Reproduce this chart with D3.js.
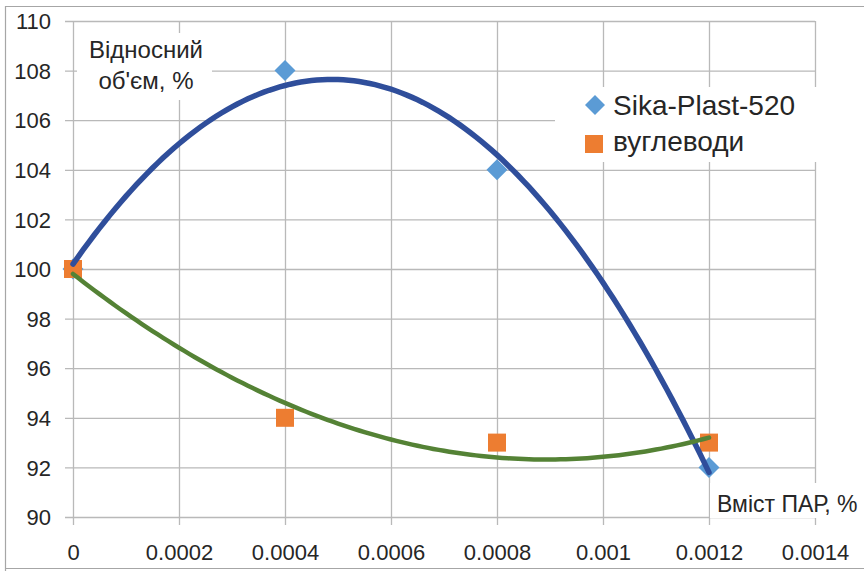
<!DOCTYPE html>
<html><head><meta charset="utf-8">
<script src="https://cdn.jsdelivr.net/npm/d3@7/dist/d3.min.js"></script>
<style>html,body{margin:0;padding:0;background:#fff;}svg{display:block;font-family:"Liberation Sans",Arial,sans-serif;}</style>
</head><body>
<script>
const xValues = [0, 0.0004, 0.0008, 0.0012];
const sikaValues = [100, 108, 104, 92];
const carbValues = [100, 94, 93, 93];
const xTicks = [0, 0.0002, 0.0004, 0.0006, 0.0008, 0.001, 0.0012, 0.0014];
const xTickLabels = ["0", "0.0002", "0.0004", "0.0006", "0.0008", "0.001", "0.0012", "0.0014"];
const yTicks = [90, 92, 94, 96, 98, 100, 102, 104, 106, 108, 110];
const seriesNames = ["Sika-Plast-520", "вуглеводи"];

const W = 864, H = 571;
const svg = d3.select("body").append("svg").attr("width", W).attr("height", H);
const x = d3.scaleLinear().domain([0, 0.0014]).range([73, 815]);
const y = d3.scaleLinear().domain([90, 110]).range([517, 21]);
const grid = "#b9b9b9";

// outer border
svg.append("path").attr("d", `M5.5,571 L5.5,6.5 L864,6.5 M5.5,568.5 L864,568.5`).attr("fill","none").attr("stroke","#a6a6a6").attr("stroke-width",1.2);

// horizontal gridlines (y axis)
const yAxis = d3.axisLeft(y).tickValues(yTicks).tickSize(-(815-65)).tickFormat(d3.format("d"));
const gy = svg.append("g").attr("transform", "translate(65,0)").call(yAxis);
gy.select(".domain").remove();
gy.selectAll("line").attr("stroke", grid).attr("stroke-width", 1.3).attr("x1", 0);
gy.selectAll("text").attr("font-size", 22).attr("fill", "#262626").attr("x", -14).attr("dy","0.35em");

// vertical gridlines (x axis)
const xAxis = d3.axisBottom(x).tickValues(xTicks).tickSize(-(525-21)).tickFormat((d,i)=>xTickLabels[i]);
const gx = svg.append("g").attr("transform", "translate(0,525)").call(xAxis);
gx.select(".domain").remove();
gx.selectAll("line").attr("stroke", grid).attr("stroke-width", 1.3);
gx.selectAll("text").attr("font-size", 22).attr("fill", "#262626").attr("y", 35).attr("dy", 0);

// white label boxes
svg.append("rect").attr("x",77).attr("y",33).attr("width",135).attr("height",67).attr("fill","#fff");
svg.append("rect").attr("x",555).attr("y",87).attr("width",265).attr("height",75).attr("fill","#fff");
svg.append("rect").attr("x",710).attr("y",483).attr("width",154).attr("height",35).attr("fill","#fff");

// quadratic least-squares trendline
function quadFit(xs, ys) {
  let S = Array(5).fill(0), T = Array(3).fill(0);
  xs.forEach((xv, i) => { for (let k=0;k<5;k++) S[k]+=Math.pow(xv,k); for (let k=0;k<3;k++) T[k]+=ys[i]*Math.pow(xv,k); });
  const A = [[S[0],S[1],S[2],T[0]],[S[1],S[2],S[3],T[1]],[S[2],S[3],S[4],T[2]]];
  for (let c=0;c<3;c++){ let p=c; for(let r=c+1;r<3;r++) if(Math.abs(A[r][c])>Math.abs(A[p][c])) p=r; [A[c],A[p]]=[A[p],A[c]];
    for(let r=0;r<3;r++){ if(r===c) continue; const f=A[r][c]/A[c][c]; for(let k=c;k<4;k++) A[r][k]-=f*A[c][k]; } }
  const coef = [A[0][3]/A[0][0], A[1][3]/A[1][1], A[2][3]/A[2][2]];
  return xv => coef[0] + coef[1]*xv + coef[2]*xv*xv;
}
const xsScaled = xValues.map(v => v*1000);
const fSika = quadFit(xsScaled, sikaValues);
const fCarb = quadFit(xsScaled, carbValues);
const samples = d3.range(0, 1.2 + 1e-9, 0.01);
const line = d3.line().x(d => x(d[0]/1000)).y(d => y(d[1]));

// markers
svg.append("g").selectAll("path").data(xValues).join("path")
  .attr("d", "M0,-10.5L10.5,0L0,10.5L-10.5,0Z")
  .attr("transform", (d,i)=>`translate(${x(d)},${y(sikaValues[i])})`).attr("fill","#5b9bd5");
svg.append("g").selectAll("rect").data(xValues).join("rect")
  .attr("x", d => x(d)-9).attr("y", (d,i)=> y(carbValues[i])-9).attr("width",18).attr("height",18).attr("fill","#ed7d31");

// trendlines
svg.append("path").datum(samples.map(s=>[s,fSika(s)])).attr("d", line).attr("fill","none").attr("stroke","#2f4e9b").attr("stroke-width",5.5).attr("stroke-linecap","round");
svg.append("path").datum(samples.map(s=>[s,fCarb(s)])).attr("d", line).attr("fill","none").attr("stroke","#548235").attr("stroke-width",4.5).attr("stroke-linecap","round");

// axis titles
const t1 = svg.append("text").attr("font-size",24).attr("fill","#262626").attr("text-anchor","middle");
t1.append("tspan").attr("x",146).attr("y",58).text("Відносний");
t1.append("tspan").attr("x",146).attr("y",89).text("об'єм, %");
svg.append("text").attr("x",717).attr("y",512).attr("font-size",23).attr("fill","#262626").text("Вміст ПАР, %");

// legend
const lg = svg.append("g");
lg.append("path").attr("d","M0,-10L10,0L0,10L-10,0Z").attr("transform","translate(595,105)").attr("fill","#5b9bd5");
lg.append("rect").attr("x",585).attr("y",135).attr("width",18).attr("height",18).attr("fill","#ed7d31");
lg.append("text").attr("x",613).attr("y",115).attr("font-size",28).attr("fill","#262626").text(seriesNames[0]);
lg.append("text").attr("x",613).attr("y",151).attr("font-size",28).attr("fill","#262626").text(seriesNames[1]);
</script>
</body></html>
